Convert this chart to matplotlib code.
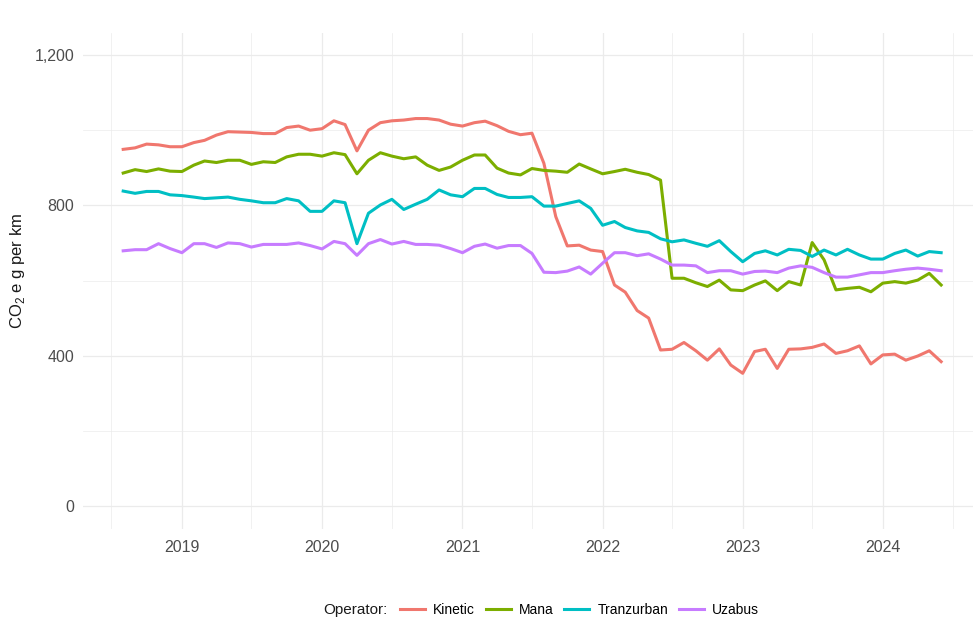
import pandas as pd
import matplotlib.pyplot as plt
import matplotlib.dates as mdates
from matplotlib.ticker import FixedLocator, FuncFormatter
from matplotlib.lines import Line2D

plt.rcParams['font.family'] = ['Liberation Sans', 'DejaVu Sans']

# monthly observations, Aug 2018 - Jun 2024
months = pd.date_range("2018-08-01", "2024-06-01", freq="MS")

kinetic = [949, 953, 963, 961, 956, 956, 967, 973, 987, 996,
           995, 994, 991, 991, 1007, 1011, 1000, 1004, 1025, 1015,
           945, 1000, 1020, 1025, 1027, 1031, 1031, 1027, 1016, 1011,
           1020, 1024, 1012, 997, 988, 992, 912, 770, 692, 694,
           681, 677, 588, 569, 520, 500, 415, 417, 435, 413,
           388, 418, 375, 353, 411, 417, 366, 417, 418, 422,
           431, 406, 413, 426, 378, 402, 404, 388, 399, 413, 384]
mana = [886, 895, 890, 897, 891, 890, 907, 918, 914, 920,
        920, 909, 916, 914, 929, 936, 936, 931, 940, 935,
        884, 920, 940, 931, 924, 929, 907, 893, 902, 920,
        934, 934, 899, 886, 881, 898, 893, 891, 888, 910,
        897, 884, 890, 896, 888, 882, 867, 606, 606, 594,
        584, 601, 575, 573, 588, 599, 573, 597, 588, 701,
        655, 575, 579, 582, 570, 593, 597, 593, 601, 619, 588]
tranzurban = [838, 832, 837, 837, 828, 826, 822, 818, 820, 822,
              816, 812, 807, 807, 818, 812, 784, 784, 812, 807,
              698, 779, 801, 816, 789, 803, 816, 841, 828, 823,
              845, 845, 829, 821, 821, 823, 798, 798, 805, 812,
              792, 747, 757, 741, 732, 728, 711, 703, 708, 699,
              691, 706, 677, 650, 672, 679, 668, 683, 680, 664,
              681, 668, 683, 668, 657, 657, 672, 681, 665, 677, 674]
uzabus = [679, 682, 682, 698, 685, 674, 698, 698, 688, 700,
          698, 689, 696, 696, 696, 700, 693, 684, 704, 698,
          667, 698, 709, 697, 704, 696, 696, 694, 685, 674,
          691, 697, 686, 693, 693, 672, 622, 621, 625, 636,
          617, 646, 674, 674, 666, 671, 657, 641, 641, 639,
          621, 626, 626, 617, 624, 625, 621, 633, 639, 635,
          621, 609, 609, 615, 621, 621, 626, 630, 633, 630, 626]

operators = ["Kinetic", "Mana", "Tranzurban", "Uzabus"]
colors = ["#F0776E", "#7CAE00", "#00BFC4", "#C77CFF"]
series = [kinetic, mana, tranzurban, uzabus]

W, H = 973, 618
fig = plt.figure(figsize=(W / 100, H / 100), dpi=100)
ax = fig.add_axes([82.5 / W, (H - 528.5) / H, (W - 82.5) / W, 496 / H])

for name, vals, col in zip(operators, series, colors):
    ax.plot(months, vals, color=col, linewidth=2.2, label=name)

ax.set_xlim(pd.Timestamp("2018-04-17"), pd.Timestamp("2024-08-23"))
ax.set_ylim(-60, 1260)

# grid like theme_minimal
ax.xaxis.set_major_locator(mdates.YearLocator())
ax.xaxis.set_minor_locator(mdates.MonthLocator(bymonth=7))
ax.xaxis.set_major_formatter(mdates.DateFormatter("%Y"))
ax.yaxis.set_major_locator(FixedLocator([0, 400, 800, 1200]))
ax.yaxis.set_minor_locator(FixedLocator([200, 600, 1000]))
ax.yaxis.set_major_formatter(FuncFormatter(lambda v, p: f"{int(v):,}"))
ax.grid(which="major", color="#EBEBEB", linewidth=0.9)
ax.grid(which="minor", color="#EBEBEB", linewidth=0.5)
ax.set_axisbelow(True)
for s in ax.spines.values():
    s.set_visible(False)
ax.tick_params(which="both", length=0)
ax.tick_params(axis="x", labelsize=11.5, labelcolor="#4D4D4D", pad=8)
ax.tick_params(axis="y", labelsize=11.5, labelcolor="#4D4D4D", pad=6)

ax.set_ylabel(r"CO$_\mathregular{2}$ e g per km", fontsize=12, color="#1A1A1A")
ax.yaxis.set_label_coords(-0.062, 0.52)

# legend at bottom, title on the left
fig.text(323 / W, 1 - 610 / H, "Operator:", fontsize=11, va="center", ha="left", color="#1A1A1A")
handles = [Line2D([], [], color=c, linewidth=2.2) for c in colors]
fig.legend(handles, operators, loc="center left", bbox_to_anchor=(400 / W, 1 - 610 / H),
           ncol=4, frameon=False, fontsize=10, handlelength=1.8, handletextpad=0.6,
           columnspacing=0.75, borderpad=0, borderaxespad=0)

fig.savefig("out.png", dpi=100, facecolor="white")
